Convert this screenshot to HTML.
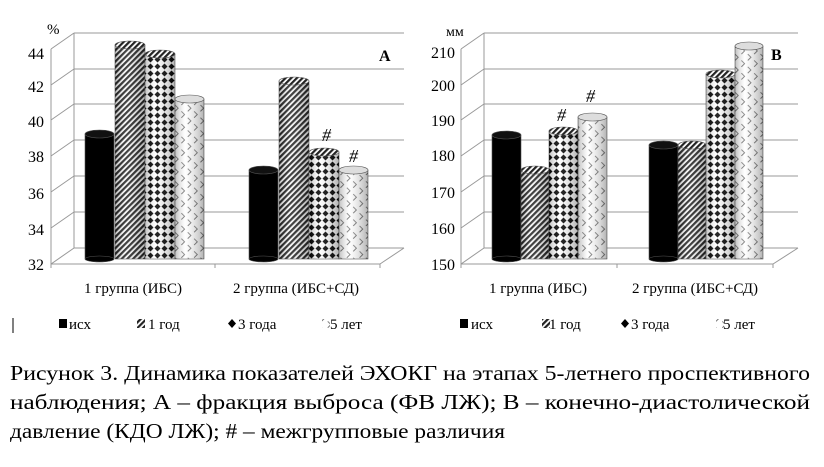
<!DOCTYPE html>
<html><head><meta charset="utf-8"><style>
html,body{margin:0;padding:0;background:#fff;}
svg, svg text{font-family:"Liberation Serif","Times New Roman",Times,serif;}
</style></head><body>
<svg width="824" height="462" viewBox="0 0 824 462" xmlns="http://www.w3.org/2000/svg" font-family="Liberation Serif, Times New Roman, serif">
<defs>
<pattern id="p1" width="4" height="4" patternUnits="userSpaceOnUse" patternTransform="rotate(45)">
<rect width="4" height="4" fill="#fff"/><rect width="2.2" height="4" fill="#222"/></pattern>
<pattern id="p3" width="7" height="7" patternUnits="userSpaceOnUse">
<rect width="7" height="7" fill="#fff"/><path d="M3.5 0.5 L6.5 3.5 L3.5 6.5 L0.5 3.5Z" fill="#000"/></pattern>
<pattern id="p5" width="9" height="9" patternUnits="userSpaceOnUse" patternTransform="rotate(-45)">
<rect width="9" height="9" fill="#fff"/><path d="M0 4.5 H4.5 V0" fill="none" stroke="#777" stroke-width="0.9"/></pattern>
<linearGradient id="sh" x1="0" x2="1" y1="0" y2="0">
<stop offset="0" stop-color="#000" stop-opacity="0.25"/><stop offset="0.35" stop-color="#fff" stop-opacity="0.15"/><stop offset="1" stop-color="#000" stop-opacity="0.3"/></linearGradient>
</defs>
<g stroke="#999" stroke-width="1" fill="none">
<path d="M74 33V248L51 264V49"/>
<path d="M74 33H404M74 69H404M74 104H404M74 140H404M74 176H404M74 212H404M74 248H404"/>
<path d="M51 49L74 33M51 85L74 69M51 120L74 104M51 156L74 140M51 192L74 176M51 228L74 212"/>
<path d="M51 264H380L404 248"/>
<path d="M215 264v4M380 264v4M51 264v4"/>
<path d="M484 33V248L461 264V49"/>
<path d="M484 33H798M484 69H798M484 104H798M484 140H798M484 176H798M484 212H798M484 248H798"/>
<path d="M461 49L484 33M461 85L484 69M461 120L484 104M461 156L484 140M461 192L484 176M461 228L484 212"/>
<path d="M461 264H773L798 248"/>
<path d="M617 264v4M773 264v4M461 264v4"/>
</g>
<g font-size="16" text-anchor="end" fill="#000">
<text x="44" y="59">44</text><text x="44" y="92">42</text><text x="44" y="127">40</text><text x="44" y="162">38</text><text x="44" y="199">36</text><text x="44" y="235">34</text><text x="44" y="270">32</text>
<text x="455" y="58">210</text><text x="455" y="91">200</text><text x="455" y="126">190</text><text x="455" y="161">180</text><text x="455" y="198">170</text><text x="455" y="234">160</text><text x="455" y="270">150</text>
</g>
<text x="47" y="34" font-size="15">%</text>
<text x="446" y="36" font-size="14">мм</text>
<text x="379" y="61" font-size="16" font-weight="bold">A</text>
<text x="771" y="60" font-size="16" font-weight="bold">B</text>
<g font-size="15" text-anchor="middle">
<text x="133" y="293">1 группа (ИБС)</text><text x="296" y="293">2 группа (ИБС+СД)</text>
<text x="538" y="293">1 группа (ИБС)</text><text x="695" y="293">2 группа (ИБС+СД)</text>
</g>
<g stroke="#555" stroke-width="0.6">
<rect x="85" y="134" width="29" height="125" fill="#000"/><ellipse cx="99.5" cy="259" rx="14.5" ry="3" fill="#000"/><ellipse cx="99.5" cy="134" rx="14.5" ry="4" fill="#111"/>
<rect x="115" y="45" width="30" height="214" fill="url(#p1)"/><rect x="115" y="45" width="30" height="214" fill="url(#sh)" stroke="none"/><ellipse cx="130" cy="45" rx="15" ry="4" fill="url(#p1)"/>
<rect x="145" y="54" width="30" height="205" fill="url(#p3)"/><rect x="145" y="54" width="30" height="205" fill="url(#sh)" stroke="none"/><ellipse cx="160" cy="54" rx="15" ry="4" fill="url(#p1)"/>
<rect x="175" y="99" width="29" height="160" fill="url(#p5)"/><rect x="175" y="99" width="29" height="160" fill="url(#sh)" stroke="none"/><ellipse cx="189.5" cy="99" rx="14.5" ry="4" fill="#ddd"/>
<rect x="249" y="170" width="29" height="89" fill="#000"/><ellipse cx="263.5" cy="259" rx="14.5" ry="3" fill="#000"/><ellipse cx="263.5" cy="170" rx="14.5" ry="4" fill="#111"/>
<rect x="279" y="81" width="30" height="178" fill="url(#p1)"/><rect x="279" y="81" width="30" height="178" fill="url(#sh)" stroke="none"/><ellipse cx="294" cy="81" rx="15" ry="4" fill="url(#p1)"/>
<rect x="309" y="152" width="30" height="107" fill="url(#p3)"/><rect x="309" y="152" width="30" height="107" fill="url(#sh)" stroke="none"/><ellipse cx="324" cy="152" rx="15" ry="4" fill="url(#p1)"/>
<rect x="339" y="170" width="29" height="89" fill="url(#p5)"/><rect x="339" y="170" width="29" height="89" fill="url(#sh)" stroke="none"/><ellipse cx="353.5" cy="170" rx="14.5" ry="4" fill="#ddd"/>
<rect x="492" y="135" width="29" height="124" fill="#000"/><ellipse cx="506.5" cy="259" rx="14.5" ry="3" fill="#000"/><ellipse cx="506.5" cy="135" rx="14.5" ry="4" fill="#111"/>
<rect x="521" y="170" width="28" height="89" fill="url(#p1)"/><rect x="521" y="170" width="28" height="89" fill="url(#sh)" stroke="none"/><ellipse cx="535" cy="170" rx="14" ry="4" fill="url(#p1)"/>
<rect x="549" y="131" width="29" height="128" fill="url(#p3)"/><rect x="549" y="131" width="29" height="128" fill="url(#sh)" stroke="none"/><ellipse cx="563.5" cy="131" rx="14.5" ry="4" fill="url(#p1)"/>
<rect x="578" y="117" width="29" height="142" fill="url(#p5)"/><rect x="578" y="117" width="29" height="142" fill="url(#sh)" stroke="none"/><ellipse cx="592.5" cy="117" rx="14.5" ry="4" fill="#ddd"/>
<rect x="649" y="145" width="29" height="114" fill="#000"/><ellipse cx="663.5" cy="259" rx="14.5" ry="3" fill="#000"/><ellipse cx="663.5" cy="145" rx="14.5" ry="4" fill="#111"/>
<rect x="678" y="145" width="28" height="114" fill="url(#p1)"/><rect x="678" y="145" width="28" height="114" fill="url(#sh)" stroke="none"/><ellipse cx="692" cy="145" rx="14" ry="4" fill="url(#p1)"/>
<rect x="706" y="74" width="29" height="185" fill="url(#p3)"/><rect x="706" y="74" width="29" height="185" fill="url(#sh)" stroke="none"/><ellipse cx="720.5" cy="74" rx="14.5" ry="4" fill="url(#p1)"/>
<rect x="735" y="46" width="28" height="213" fill="url(#p5)"/><rect x="735" y="46" width="28" height="213" fill="url(#sh)" stroke="none"/><ellipse cx="749" cy="46" rx="14" ry="4" fill="#ddd"/>
</g>
<g font-size="18" font-style="italic">
<text x="322" y="141">#</text><text x="349" y="162">#</text>
<text x="557" y="121">#</text><text x="586" y="102">#</text>
</g>
<g font-size="15">
<line x1="13" y1="318" x2="13" y2="333" stroke="#000"/>
<rect x="59" y="319" width="8" height="9" fill="#000"/><text x="69" y="329">исх</text>
<rect x="137" y="319" width="8" height="9" fill="url(#p1)"/><text x="148" y="329">1 год</text>
<path d="M232 319l4 4.5-4 4.5-4-4.5z" fill="#000"/><text x="238" y="329">3 года</text>
<rect x="322" y="319" width="8" height="9" fill="url(#p5)"/><text x="330" y="329">5 лет</text>
<rect x="460" y="319" width="8" height="9" fill="#000"/><text x="471" y="329">исх</text>
<rect x="542" y="319" width="8" height="9" fill="url(#p1)"/><text x="549" y="329">1 год</text>
<path d="M625 319l4 4.5-4 4.5-4-4.5z" fill="#000"/><text x="631" y="329">3 года</text>
<rect x="716" y="319" width="8" height="9" fill="url(#p5)"/><text x="723" y="329">5 лет</text>
</g>
<g font-size="21">
<text x="10" y="380" textLength="800" lengthAdjust="spacingAndGlyphs">Рисунок 3. Динамика показателей ЭХОКГ на этапах 5-летнего проспективного</text>
<text x="10" y="409" textLength="800" lengthAdjust="spacingAndGlyphs">наблюдения;  А  –  фракция  выброса  (ФВ  ЛЖ);  В  –  конечно-диастолической</text>
<text x="10" y="438" textLength="495" lengthAdjust="spacingAndGlyphs">давление (КДО ЛЖ); # – межгрупповые различия</text>
</g>
</svg>
</body></html>
